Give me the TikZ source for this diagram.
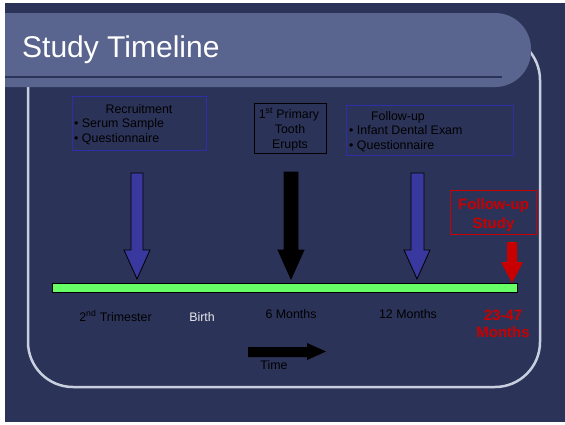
\documentclass[tikz,border=0pt]{standalone}
\usepackage{fontspec}
\setmainfont{Liberation Sans}
\definecolor{navy}{RGB}{44,51,88}
\definecolor{titlebar}{RGB}{89,101,142}
\definecolor{framegray}{RGB}{200,208,224}
\definecolor{boxblue}{RGB}{46,46,165}
\definecolor{arrowblue}{RGB}{56,56,158}
\definecolor{linegreen}{RGB}{102,255,102}
\definecolor{studyred}{RGB}{200,0,0}

\begin{document}
\begin{tikzpicture}[x=1pt,y=-1pt,
  lab/.style={inner sep=0pt,anchor=base,font=\fontsize{12.4}{15}\selectfont},
  bullet/.style={lab,anchor=base west},
  redlab/.style={inner sep=0pt,anchor=base,text=studyred,font=\fontsize{15}{19}\selectfont\bfseries},
  box/.style={draw,line width=1.5pt,inner sep=0pt}]
\useasboundingbox (0,0) rectangle (565,424);
\fill[white] (0,0) rectangle (565,424);
\fill[navy] (5,3) rectangle (565,422);

% frame and title
\draw[framegray,line width=2.5pt,rounded corners=45pt] (28,35) rectangle (540,387);
\fill[titlebar] (5,13) [rounded corners=36pt] -- (531,13) -- (531,87) [sharp corners] -- (5,87) -- cycle;
\draw[navy,line width=2pt] (5,77) -- (502,77);
\node[inner sep=0pt,anchor=base west,text=white,font=\fontsize{30}{36}\selectfont] (title) at (22,57) {Study Timeline};

% boxes
\node[box,draw=boxblue,minimum width=134pt,minimum height=54pt] (recruit) at (139.5,123.5) {};
\node[box,draw=black,minimum width=72pt,minimum height=50pt] (tooth) at (290.5,128.5) {};
\node[box,draw=boxblue,minimum width=167pt,minimum height=50pt] (follow) at (430,130.5) {};
\node[box,draw=studyred,minimum width=86pt,minimum height=44pt] (study) at (493.5,212.5) {};

\node[lab] (recruit1) at (139,113) {Recruitment};
\node[bullet] (recruit2) at (74,127.5) {• Serum Sample};
\node[bullet] (recruit3) at (74,142.5) {• Questionnaire};
\node[lab] (tooth1) at (289,118) {1\textsuperscript{st} Primary};
\node[lab] (tooth2) at (290,133) {Tooth};
\node[lab] (tooth3) at (290,148) {Erupts};
\node[lab] (follow1) at (398,120) {Follow-up};
\node[bullet] (follow2) at (349,134.5) {• Infant Dental Exam};
\node[bullet] (follow3) at (349,149.5) {• Questionnaire};
\node[redlab] (study1) at (493.5,209) {Follow-up};
\node[redlab] (study2) at (493.5,228) {Study};

% arrows down to the line
\draw[fill=arrowblue,line width=0.8pt] (131,173) -- (143,173) -- (143,250) -- (150,250) -- (137,279) -- (124,250) -- (131,250) -- cycle;
\draw[fill=black,line width=0.8pt] (284,172) -- (298,172) -- (298,250) -- (304,250) -- (291,279) -- (278,250) -- (284,250) -- cycle;
\draw[fill=arrowblue,line width=0.8pt] (411,173) -- (424,173) -- (424,250) -- (430,250) -- (417,279) -- (404,250) -- (411,250) -- cycle;
\fill[studyred] (507,242) -- (517,242) -- (517,262) -- (523,262) -- (512,283) -- (501,262) -- (507,262) -- cycle;

% timeline
\draw[fill=linegreen,line width=1pt] (52,283) rectangle (517,292);
\node[lab] (tri) at (115.5,321) {2\textsuperscript{nd} Trimester};
\node[lab,text=white!88!navy] (birth) at (202,321) {Birth};
\node[lab] (m6) at (291,318) {6 Months};
\node[lab] (m12) at (408,318) {12 Months};
\node[redlab] (m23a) at (503,320) {23-47};
\node[redlab] (m23b) at (503,337) {Months};

% time arrow
\fill[black] (248,347) -- (307,347) -- (307,343) -- (326,351.5) -- (307,360) -- (307,357) -- (248,357) -- cycle;
\node[lab] (time) at (274,369) {Time};
\end{tikzpicture}
\end{document}
